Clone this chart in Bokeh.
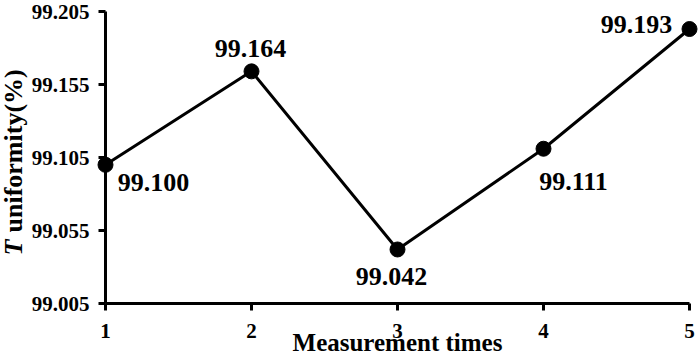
import math
from bokeh.plotting import figure
from bokeh.models import ColumnDataSource, FixedTicker, Range1d
from bokeh.core.properties import value
from bokeh.embed import file_html
from bokeh.resources import INLINE

# data
measurement = [1, 2, 3, 4, 5]
uniformity = [99.100, 99.164, 99.042, 99.111, 99.193]
point_labels = ["99.100", "99.164", "99.042", "99.111", "99.193"]
y_ticks = [99.005, 99.055, 99.105, 99.155, 99.205]
y_tick_labels = ["99.005", "99.055", "99.105", "99.155", "99.205"]
x_ticks = [1, 2, 3, 4, 5]
x_title = "Measurement times"
y_title_var = "T"
y_title_rest = "uniformity(%)"

# label offsets (pixels, styling)
lab_dx = [48, -1, -6, 30, -53]
lab_dy = [18, -23, 27, 33, -5]

FONT = "Liberation Serif"

p = figure(width=700, height=358, output_backend="svg", toolbar_location=None,
           x_range=Range1d(1, 5), y_range=Range1d(99.005, 99.205),
           min_border_left=105, min_border_right=11, min_border_top=11,
           min_border_bottom=53)
p.outline_line_color = None
p.xgrid.visible = False
p.ygrid.visible = False
p.background_fill_color = "white"

src = ColumnDataSource(dict(x=measurement, y=uniformity, t=point_labels,
                            dx=lab_dx, dy=lab_dy))
p.line("x", "y", source=src, line_color="black", line_width=3, level="overlay")
p.scatter("x", "y", source=src, size=15, fill_color="black", line_color="black",
          level="overlay")
p.text("x", "y", text="t", source=src, x_offset="dx", y_offset="dy",
       text_align="center", text_baseline="middle",
       text_font=value(FONT), text_font_style="bold", text_font_size="26px",
       text_color="black", level="overlay")

for ax in (p.xaxis[0], p.yaxis[0]):
    ax.axis_line_width = 3
    ax.axis_line_color = "black"
    ax.major_tick_line_width = 3
    ax.major_tick_out = 7
    ax.major_tick_in = 0
    ax.minor_tick_line_color = None
    ax.major_label_text_font = FONT
    ax.major_label_text_font_style = "bold"
    ax.major_label_text_font_size = "21px"
    ax.major_label_text_color = "black"

p.xaxis.ticker = FixedTicker(ticks=x_ticks)
p.xaxis.major_label_standoff = 13
p.xaxis.axis_label = x_title
p.xaxis.axis_label_text_font = FONT
p.xaxis.axis_label_text_font_style = "bold"
p.xaxis.axis_label_text_font_size = "25px"
p.xaxis.axis_label_text_color = "black"
p.xaxis.axis_label_standoff = -12

p.yaxis.ticker = FixedTicker(ticks=y_ticks)
p.yaxis.major_label_overrides = {t: s for t, s in zip(y_ticks, y_tick_labels)}
p.yaxis.major_label_standoff = 9

# y-axis title with italic variable, drawn as unclipped text glyphs
rest_src = ColumnDataSource(dict(x=[measurement[0]], y=[y_ticks[0]], t=[y_title_rest]))
var_src = ColumnDataSource(dict(x=[measurement[0]], y=[y_ticks[0]], t=[y_title_var]))
p.text("x", "y", text="t", source=rest_src, x_offset=-92, y_offset=-71,
       angle=math.pi / 2, text_align="left", text_baseline="alphabetic",
       text_font=value(FONT), text_font_style="bold",
       text_font_size="26px", text_color="black", level="overlay")
p.text("x", "y", text="t", source=var_src, x_offset=-92, y_offset=-48,
       angle=math.pi / 2, text_align="left", text_baseline="alphabetic",
       text_font=value(FONT), text_font_style="bold italic",
       text_font_size="26px", text_color="black", level="overlay")

open("out.html", "w").write(file_html(p, INLINE))
